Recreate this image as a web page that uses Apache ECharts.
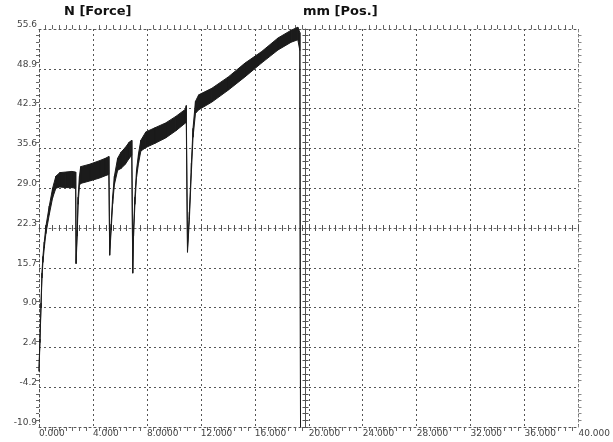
<!DOCTYPE html>
<html>
<head>
<meta charset="utf-8">
<script src="https://cdn.jsdelivr.net/npm/echarts@6/dist/echarts.min.js"></script>
<style>
html,body{margin:0;padding:0;background:#fff;}
#chart{width:613px;height:442px;}
</style>
</head>
<body>
<div id="chart"></div>
<script>
// Position in mm (x) and the upper / lower edge of the noisy force trace in N (y)
const posMm = [0.00,0.07,0.15,0.22,0.29,0.39,0.51,0.76,1.01,1.25,1.54,1.99,2.43,2.72,
  2.75,2.83,2.90,3.00,3.09,3.75,4.49,4.93,5.18,
  5.24,5.35,5.46,5.59,5.83,6.08,6.40,6.69,6.88,
  6.95,7.01,7.11,7.23,7.38,7.55,7.92,8.60,9.39,10.15,10.86,10.92,
  11.01,11.15,11.30,11.42,11.60,11.84,12.82,14.04,15.27,16.49,17.72,18.70,19.19,19.34,19.39];
const forceUpper = [-1.0,3.8,9.8,14.8,17.6,20.0,22.6,26.0,29.0,31.0,31.6,31.7,31.8,31.7,
  17.2,22.0,27.5,31.0,32.6,33.0,33.6,34.0,34.3,
  18.5,23.0,27.6,31.0,34.0,35.0,35.8,36.7,37.0,
  15.5,22.0,27.5,32.0,34.8,37.0,38.4,39.1,39.9,41.0,42.2,42.8,
  19.0,25.0,33.2,39.0,43.5,44.6,45.7,47.6,49.9,51.8,54.1,55.4,55.9,55.0,-10.9];
const forceLower = [-1.6,3.2,9.0,14.0,16.6,19.0,21.4,24.6,27.4,29.0,29.2,29.1,29.1,29.0,
  16.4,21.0,26.3,29.5,29.8,30.2,30.7,31.1,31.3,
  17.8,22.0,26.4,29.6,32.0,32.3,33.0,34.0,34.5,
  14.8,21.0,26.3,30.8,33.2,35.2,35.8,36.5,37.4,38.6,39.9,40.0,
  18.3,23.8,31.8,37.5,41.5,42.1,43.4,45.4,47.6,49.9,52.1,53.4,53.8,52.0,-10.9];
const xTickLabels = ['0.000','4.000','8.0000','12.000','16.000','20.000','24.000','28.000','32.000','36.000','40.000'];
const yTickLabels = ['-10.9','-4.2','2.4','9.0','15.7','22.3','29.0','35.6','42.3','48.9','55.6'];
const forceTitle = 'N [Force]';
const posTitle = 'mm [Pos.]';

// one item per segment: [x, upper, lower, nextX, nextUpper, nextLower]
const bandData = [];
for (let i = 0; i < posMm.length - 1; i++) {
  bandData.push([posMm[i], forceUpper[i], forceLower[i], posMm[i + 1], forceUpper[i + 1], forceLower[i + 1]]);
}

const traceColor = '#1b1b1b';
const gridColor = '#555';
const dash = [2, 3];
const labelFont = {fontFamily: 'DejaVu Sans', fontSize: 9, color: '#444'};

const chart = echarts.init(document.getElementById('chart'), null, {renderer: 'canvas'});
chart.setOption({
  animation: false,
  backgroundColor: '#fff',
  title: [
    {text: forceTitle, left: 64, top: 5, padding: 0,
     textStyle: {fontFamily: 'DejaVu Sans', fontSize: 13, fontWeight: 'bold', color: '#111'}},
    {text: posTitle, left: 303, top: 5, padding: 0,
     textStyle: {fontFamily: 'DejaVu Sans', fontSize: 13, fontWeight: 'bold', color: '#111'}}
  ],
  grid: {left: 39, right: 30, top: 29, bottom: 15, containLabel: false},
  xAxis: [
    { // data / label axis (bottom)
      type: 'value', min: 0, max: 40, interval: 4, position: 'bottom',
      axisLine: {show: true, onZero: false, lineStyle: {color: gridColor, type: dash, width: 1}},
      axisTick: {show: false},
      minorTick: {show: true, splitNumber: 8, length: 4, lineStyle: {color: '#666'}},
      splitLine: {show: true, lineStyle: {color: gridColor, type: dash, width: 1}},
      axisLabel: Object.assign({show: true, margin: 2, align: 'left', showMinLabel: true, showMaxLabel: true,
        formatter: v => xTickLabels[Math.round(v / 4)]}, labelFont)
    },
    { // top border
      type: 'value', min: 0, max: 40, interval: 4, position: 'top',
      axisLine: {show: true, onZero: false, lineStyle: {color: gridColor, type: dash, width: 1}},
      axisTick: {show: false},
      minorTick: {show: true, splitNumber: 8, length: 4, lineStyle: {color: '#666'}},
      splitLine: {show: false}, axisLabel: {show: false}
    },
    { // horizontal ruler at 22.3 N (ticks up)
      type: 'value', min: 0, max: 40, interval: 0.5, position: 'bottom', offset: -199,
      axisLine: {show: true, onZero: false, lineStyle: {color: '#666', type: dash, width: 1}},
      axisTick: {show: true, inside: true, length: 3, lineStyle: {color: '#555'}},
      splitLine: {show: false}, axisLabel: {show: false}
    },
    { // horizontal ruler at 22.3 N (ticks down)
      type: 'value', min: 0, max: 40, interval: 0.5, position: 'bottom', offset: -199,
      axisLine: {show: false, onZero: false},
      axisTick: {show: true, inside: false, length: 3, lineStyle: {color: '#555'}},
      splitLine: {show: false}, axisLabel: {show: false}
    }
  ],
  yAxis: [
    { // data axis
      type: 'value', min: -10.9, max: 55.6, show: false,
      axisLine: {onZero: false},
      splitLine: {show: false}
    },
    { // left grid / label axis
      type: 'value', min: 0, max: 10, interval: 1, position: 'left',
      axisLine: {show: true, onZero: false, lineStyle: {color: gridColor, type: dash, width: 1}},
      axisTick: {show: false},
      minorTick: {show: true, splitNumber: 6, length: 3, lineStyle: {color: '#666'}},
      splitLine: {show: true, lineStyle: {color: gridColor, type: dash, width: 1}},
      axisLabel: Object.assign({show: true, margin: 2, verticalAlign: 'bottom', showMinLabel: true, showMaxLabel: true,
        formatter: v => yTickLabels[Math.round(v)]}, labelFont)
    },
    { // right border
      type: 'value', min: 0, max: 10, interval: 1, position: 'right',
      axisLine: {show: true, onZero: false, lineStyle: {color: '#888', type: dash, width: 1}},
      axisTick: {show: false},
      minorTick: {show: true, splitNumber: 6, length: 3, lineStyle: {color: '#888'}},
      splitLine: {show: false}, axisLabel: {show: false}
    },
    { // vertical ruler at 20 mm (ticks left)
      type: 'value', min: 0, max: 60, interval: 1, position: 'right', offset: -273,
      axisLine: {show: true, onZero: false, lineStyle: {color: '#555', width: 1}},
      axisTick: {show: true, inside: true, length: 3, lineStyle: {color: '#555'}},
      splitLine: {show: false}, axisLabel: {show: false}
    },
    { // vertical ruler at 20 mm (ticks right)
      type: 'value', min: 0, max: 60, interval: 1, position: 'right', offset: -273,
      axisLine: {show: false, onZero: false},
      axisTick: {show: true, inside: false, length: 3, lineStyle: {color: '#555'}},
      splitLine: {show: false}, axisLabel: {show: false}
    }
  ],
  series: [
    {
      type: 'custom', name: 'Force', xAxisIndex: 0, yAxisIndex: 0, clip: false, z: 5,
      encode: {x: [0, 3], y: [1, 2, 4, 5]},
      data: bandData,
      renderItem: function (params, api) {
        const p1 = api.coord([api.value(0), api.value(1)]);
        const p2 = api.coord([api.value(3), api.value(4)]);
        const p3 = api.coord([api.value(3), api.value(5)]);
        const p4 = api.coord([api.value(0), api.value(2)]);
        return {
          type: 'polygon',
          shape: {points: [p1, p2, p3, p4]},
          style: {fill: traceColor, stroke: traceColor, lineWidth: 1}
        };
      }
    }
  ]
});
</script>
</body>
</html>
